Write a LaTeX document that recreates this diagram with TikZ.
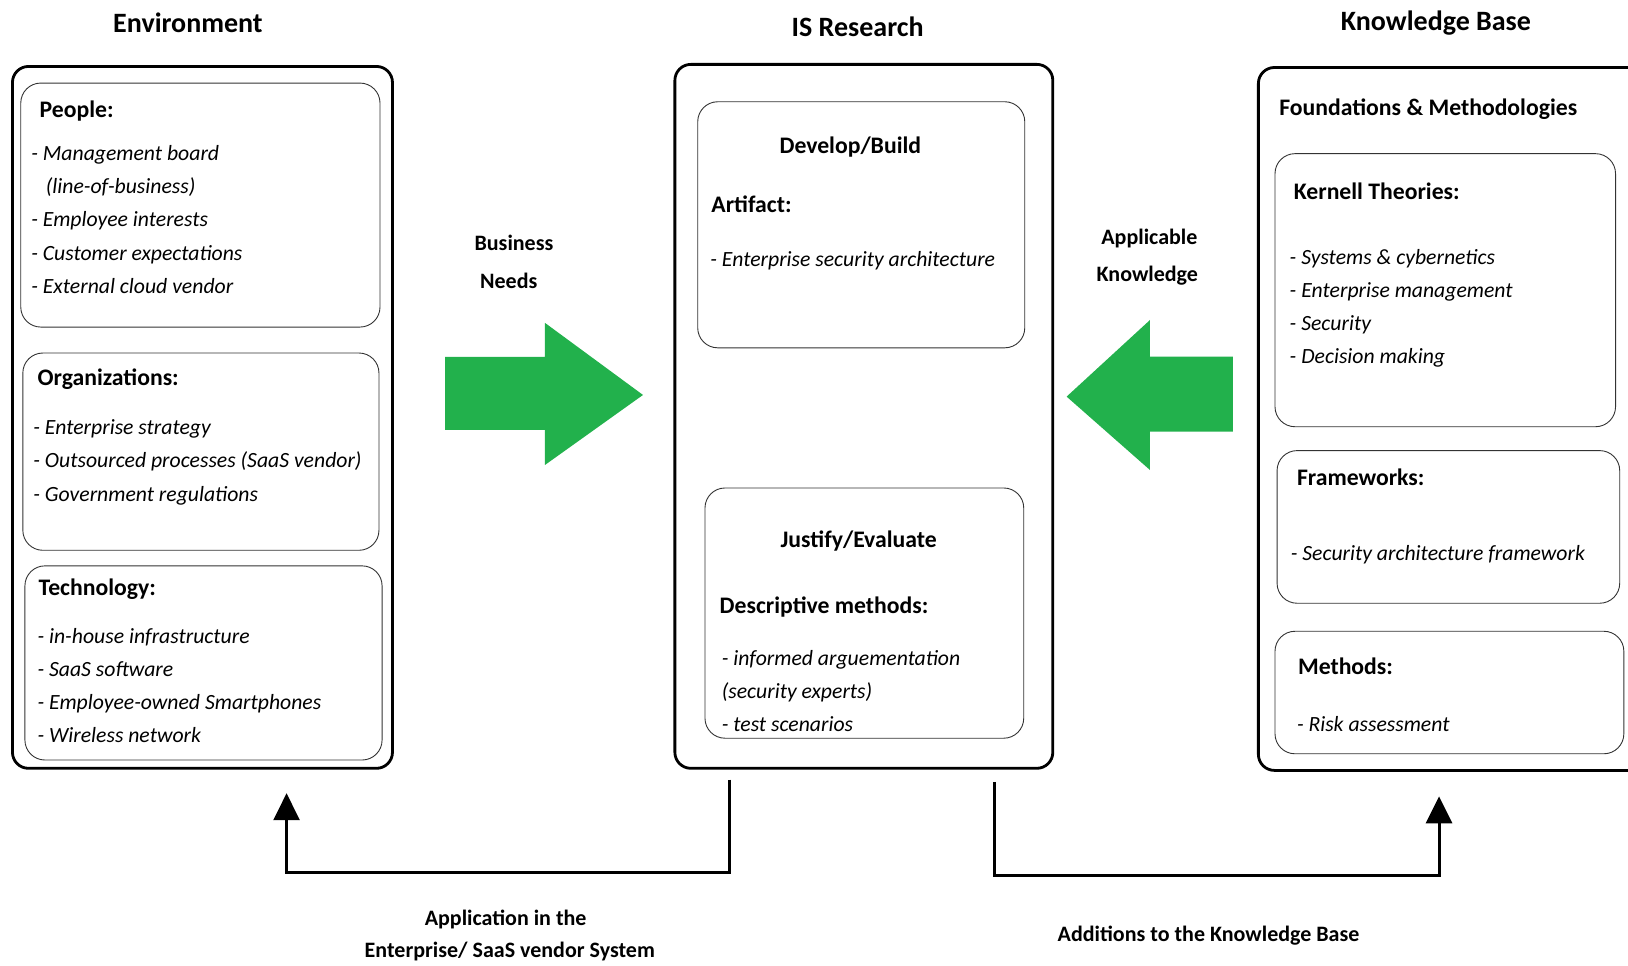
\documentclass[tikz,border=0pt]{standalone}
\usepackage{fontspec}
\setmainfont{Carlito}
\usetikzlibrary{arrows.meta,fit}
\definecolor{arrowgreen}{HTML}{22B14C}
\begin{document}
\begin{tikzpicture}[x=1.0383pt,y=-1.0383pt,
  outer/.style={draw, line width=2.8pt, rounded corners=16pt, inner sep=0pt},
  inner/.style={draw=black!80, line width=0.9pt, rounded corners=20pt, inner sep=0pt},
  title/.style={font=\fontsize{28}{33}\selectfont\bfseries, inner sep=0pt},
  head/.style={anchor=west, font=\fontsize{23.7}{28}\selectfont\bfseries, inner sep=0pt, text height=1.36em, text depth=0em},
  item/.style={anchor=west, font=\fontsize{21.7}{26}\selectfont\itshape, inner sep=0pt, text height=1.36em, text depth=0em},
  flowlabel/.style={font=\fontsize{22}{27}\selectfont\bfseries, inner sep=0pt, text height=1.36em, text depth=0em},
  conn/.style={line width=3pt, -{Triangle[width=26pt,length=27pt]}},
  bigarrow/.style={fill=arrowgreen}]

\useasboundingbox (0,0) rectangle (1568,930);

% column titles
\node[title] (tEnv) at (181,22) {Environment};
\node[title] (tIS) at (826,26) {IS Research};
\node[title] (tKB) at (1383,22) {Knowledge Base};

% ---------- Environment ----------
\node[outer, fit={(12,64) (378,740)}] (env) {};
\node[inner, fit={(20,80) (366,315)}] (people) {};
\node[inner, fit={(22,340) (365,530)}] (orgs) {};
\node[inner, fit={(24,545) (368,732)}] (tech) {};

\node[head] (hPeople) at (38,107) {People:};
\node[item] (p1) at (30,148) {- Management board};
\node[item] (p2) at (44,180) {(line-of-business)};
\node[item] (p3) at (30,212) {- Employee interests};
\node[item] (p4) at (30,244) {- Customer expectations};
\node[item] (p5) at (30,276) {- External cloud vendor};

\node[head] (hOrgs) at (36,365) {Organizations:};
\node[item] (o1) at (32,412) {- Enterprise strategy};
\node[item] (o2) at (32,444) {- Outsourced processes (SaaS vendor)};
\node[item] (o3) at (32,476) {- Government regulations};

\node[head] (hTech) at (37,567) {Technology:};
\node[item] (t1) at (36,613) {- in-house infrastructure};
\node[item] (t2) at (36,645) {- SaaS software};
\node[item] (t3) at (36,677) {- Employee-owned Smartphones};
\node[item] (t4) at (36,709) {- Wireless network};

% ---------- IS Research ----------
\node[outer, fit={(650,62) (1014,740)}] (is) {};
\node[inner, fit={(672,98) (987,335)}] (build) {};
\node[inner, fit={(679,470) (986,711)}] (eval) {};

\node[head, anchor=center] (hBuild) at (819,141) {Develop/Build};
\node[head] (hArt) at (685,198) {Artifact:};
\node[item] (a1) at (684,250) {- Enterprise security architecture};

\node[head, anchor=center] (hEval) at (827,521) {Justify/Evaluate};
\node[head] (hDesc) at (693,584) {Descriptive methods:};
\node[item] (d1) at (695,634) {- informed arguementation};
\node[item] (d2) at (695,666) {(security experts)};
\node[item] (d3) at (695,698) {- test scenarios};

% ---------- Knowledge Base ----------
\node[outer, fit={(1212,65) (1585,742)}] (kb) {};
\node[inner, fit={(1228,148) (1556,411)}] (kernel) {};
\node[inner, fit={(1230,434) (1560,581)}] (frame) {};
\node[inner, fit={(1228,608) (1564,726)}] (meth) {};

\node[head] (hFound) at (1232,105) {Foundations \& Methodologies};
\node[head] (hKern) at (1246,186) {Kernell Theories:};
\node[item] (k1) at (1242,248) {- Systems \& cybernetics};
\node[item] (k2) at (1242,280) {- Enterprise management};
\node[item] (k3) at (1242,312) {- Security};
\node[item] (k4) at (1242,344) {- Decision making};

\node[head] (hFrame) at (1249,461) {Frameworks:};
\node[item] (f1) at (1243,533) {- Security architecture framework};

\node[head] (hMeth) at (1250,643) {Methods:};
\node[item] (m1) at (1249,698) {- Risk assessment};

% ---------- green flow arrows ----------
\fill[bigarrow] (428.6,343.8) -- (524.9,343.8) -- (524.9,311) -- (619.3,380.4)
  -- (524.9,447.8) -- (524.9,414.1) -- (428.6,414.1) -- cycle;
\fill[bigarrow] (1187.5,343.5) -- (1107.6,343.5) -- (1107.6,308.2) -- (1027.3,382)
  -- (1107.6,452.7) -- (1107.6,415.8) -- (1187.5,415.8) -- cycle;

\node[flowlabel] (lBus1) at (495,235) {Business};
\node[flowlabel] (lBus2) at (490,271) {Needs};
\node[flowlabel] (lApp1) at (1107,229) {Applicable};
\node[flowlabel] (lApp2) at (1105,265) {Knowledge};

% ---------- feedback connectors ----------
\coordinate (appStart) at (703,751);
\coordinate (appEnd) at (276,764);
\draw[conn] (appStart) -- (703,840) -| (appEnd);

\coordinate (addStart) at (958,753);
\coordinate (addEnd) at (1386,767);
\draw[conn] (addStart) -- (958,843) -| (addEnd);

\node[flowlabel] (lUse1) at (487,885) {Application in the};
\node[flowlabel] (lUse2) at (491,916) {Enterprise/ SaaS vendor System};
\node[flowlabel] (lAdd) at (1164,900) {Additions to the Knowledge Base};

\end{tikzpicture}
\end{document}
